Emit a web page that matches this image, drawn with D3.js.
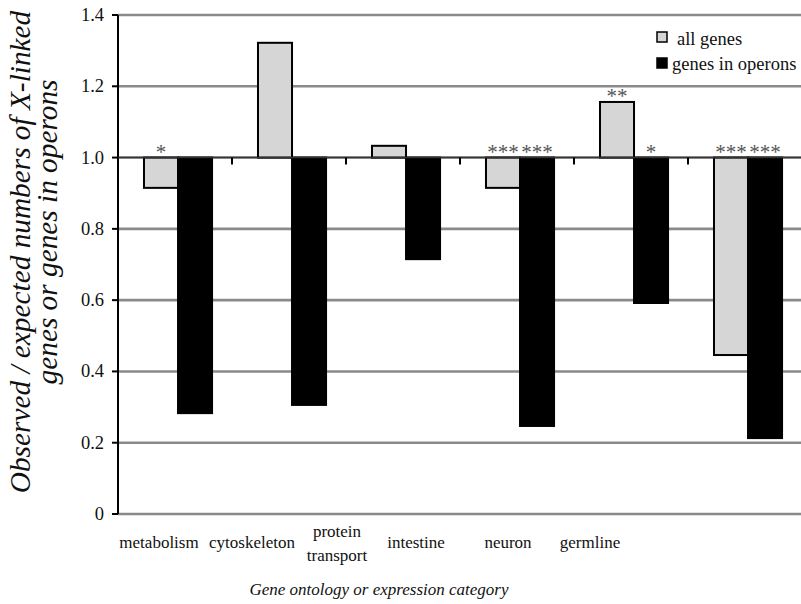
<!DOCTYPE html>
<html>
<head>
<meta charset="utf-8">
<script src="https://cdn.jsdelivr.net/npm/d3@7/dist/d3.min.js"></script>
</head>
<body style="margin:0">
<svg id="fig" width="801" height="604"></svg>
<script>
const categories = ["metabolism", "cytoskeleton", "protein transport", "intestine", "neuron", "germline"];
const seriesNames = ["all genes", "genes in operons"];
const allGenes = [0.915, 1.322, 1.033, 0.915, 1.156, 0.446];
const genesInOperons = [0.283, 0.306, 0.715, 0.247, 0.592, 0.213];
const sigAll = ["*", "", "", "***", "**", "***"];
const sigOperons = ["", "", "", "***", "*", "***"];
const yTicks = [0, 0.2, 0.4, 0.6, 0.8, 1.0, 1.2, 1.4];
const yTickLabels = ["0", "0.2", "0.4", "0.6", "0.8", "1.0", "1.2", "1.4"];
const yTitleLines = ["Observed / expected numbers of X-linked", "genes or genes in operons"];
const xTitle = "Gene ontology or expression category";

const FONT = "Liberation Serif";
const svg = d3.select("#fig");
const plotLeft = 118, plotRight = 802, plotTop = 15, plotBottom = 514;

function txt(sel, size, italic) {
  return sel.style("font-family", FONT).style("font-size", size + "px")
    .style("font-style", italic ? "italic" : "normal");
}

const y = d3.scaleLinear().domain([0, 1.4]).range([plotBottom, plotTop]);
const x0 = d3.scaleBand().domain(categories).range([plotLeft, plotRight]).padding(0);
const bw = x0.bandwidth();
const x1 = d3.scaleBand().domain(seriesNames).range([bw * 0.228, bw * 0.825]).padding(0);
// category labels in the original sit on their own spacing, not under the bar groups
const xLabel = d3.scaleOrdinal().domain(categories).range([159, 252, 337, 416, 508, 590]);
const colors = d3.scaleOrdinal().domain(seriesNames).range(["#d6d6d6", "#000000"]);

// gridlines
svg.append("g").selectAll("line").data(yTicks).join("line")
  .attr("x1", plotLeft).attr("x2", 801)
  .attr("y1", d => y(d)).attr("y2", d => y(d))
  .attr("stroke", "#8a8a8a").attr("stroke-width", 2.6);

// y axis (drawn from the scale)
const gy = svg.append("g");
gy.append("line").attr("x1", plotLeft).attr("x2", plotLeft).attr("y1", y(1.4)).attr("y2", y(0))
  .attr("stroke", "#000").attr("stroke-width", 2);
gy.selectAll("line.tk").data(yTicks).join("line").attr("class", "tk")
  .attr("x1", plotLeft - 6).attr("x2", plotLeft).attr("y1", d => y(d)).attr("y2", d => y(d))
  .attr("stroke", "#000").attr("stroke-width", 2);
txt(gy.selectAll("text").data(yTicks).join("text")
  .attr("x", plotLeft - 14).attr("y", d => y(d) + 6).attr("text-anchor", "end"), 18.5)
  .attr("fill", "#111").text((d, i) => yTickLabels[i]);

// bars
const rows = categories.map((c, i) => ({ cat: c, vals: [allGenes[i], genesInOperons[i]], sig: [sigAll[i], sigOperons[i]] }));
const groups = svg.append("g").selectAll("g").data(rows).join("g")
  .attr("transform", d => `translate(${x0(d.cat)},0)`);
groups.selectAll("rect").data(d => seriesNames.map((s, j) => ({ s, v: d.vals[j] }))).join("rect")
  .attr("x", d => x1(d.s))
  .attr("width", x1.bandwidth())
  .attr("y", d => y(Math.max(d.v, 1)))
  .attr("height", d => Math.abs(y(d.v) - y(1)))
  .attr("fill", d => colors(d.s))
  .attr("stroke", "#000").attr("stroke-width", 2);

// x axis at 1.0 with ticks
svg.append("line").attr("x1", plotLeft).attr("x2", plotRight).attr("y1", y(1)).attr("y2", y(1))
  .attr("stroke", "#333").attr("stroke-width", 1.6);
svg.append("g").selectAll("line").data(categories.slice(1)).join("line")
  .attr("x1", d => x0(d)).attr("x2", d => x0(d))
  .attr("y1", y(1)).attr("y2", y(1) + 7)
  .attr("stroke", "#000").attr("stroke-width", 2);

// significance stars
txt(groups.selectAll("text.sig").data(d => seriesNames.map((s, j) => ({ s, v: d.vals[j], t: d.sig[j] }))).join("text")
  .attr("class", "sig")
  .attr("x", d => x1(d.s) + x1.bandwidth() / 2)
  .attr("y", d => y(Math.max(d.v, 1)) + 1)
  .attr("text-anchor", "middle"), 21)
  .attr("fill", "#555")
  .text(d => d.t);

// category labels
const labelG = svg.append("g");
categories.forEach(c => {
  const parts = c === "protein transport" ? ["protein", "transport"] : [c];
  const t = txt(labelG.append("text").attr("text-anchor", "middle"), 17).attr("fill", "#111")
    .attr("transform", `translate(${xLabel(c)},0)`);
  if (parts.length === 1) {
    t.append("tspan").attr("x", 0).attr("y", 548).text(parts[0]);
  } else {
    t.append("tspan").attr("x", 0).attr("y", 537).text(parts[0]);
    t.append("tspan").attr("x", 0).attr("y", 561).text(parts[1]);
  }
});

// x title
txt(svg.append("text").attr("x", 379).attr("y", 595).attr("text-anchor", "middle"), 17, true)
  .attr("fill", "#111").text(xTitle);

// y title
txt(svg.append("text").attr("transform", "translate(30,252) rotate(-90)").attr("text-anchor", "middle"), 29.3, true)
  .attr("fill", "#111").text(yTitleLines[0]);
txt(svg.append("text").attr("transform", "translate(57,232) rotate(-90)").attr("text-anchor", "middle"), 29.3, true)
  .attr("fill", "#111").text(yTitleLines[1]);

// legend
const leg = svg.append("g").attr("transform", "translate(657,0)");
leg.selectAll("rect").data(seriesNames).join("rect")
  .attr("x", 0).attr("y", (d, i) => 32 + i * 26)
  .attr("width", 10).attr("height", 10)
  .attr("fill", d => colors(d)).attr("stroke", "#000").attr("stroke-width", 1.5);
txt(leg.selectAll("text").data(seriesNames).join("text")
  .attr("x", (d, i) => i === 0 ? 20 : 15).attr("y", (d, i) => 45 + i * 25), 18.5)
  .attr("fill", "#111").text(d => d);
</script>
</body>
</html>
